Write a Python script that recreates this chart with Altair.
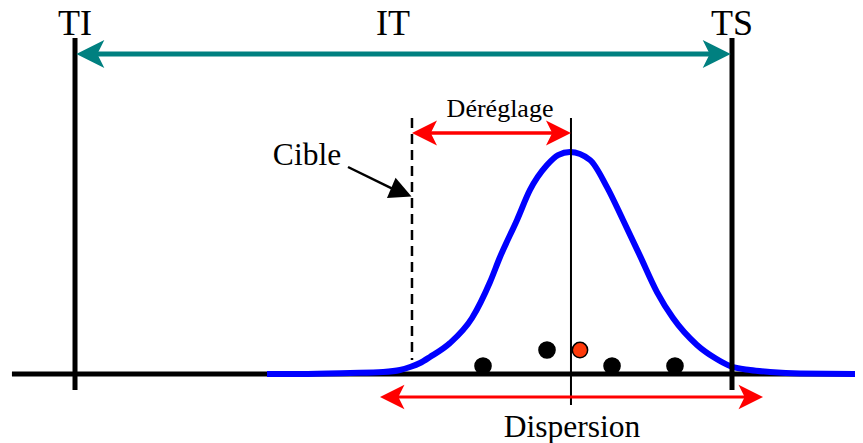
import altair as alt
import pandas as pd

# ---------------- data (abstract units: TI = 0, TS = 100 ; curve peak = 1) ----------------
W, H = 847, 435
X_DOMAIN = [-10.2, 118.72]
Y_DOMAIN = [-0.3108, 1.6486]

# tolerance limits
limit_names = ["TI", "TS"]
limit_x = [0.0, 100.0]
limit_y_top = [1.514, 1.514]
limit_y_bot = [-0.072, -0.072]

# IT arrow (between TI and TS)
it_tips_x = [0.2, 99.8]
it_y = 1.441

# target (cible) and process mean
target_x = 51.29
target_y = [1.153, 0.063]
mean_x = 75.49
mean_y = [1.153, -0.1396]

# Déréglage arrow
dereglage_tips_x = [51.29, 75.49]
dereglage_y = 1.0856

# Dispersion arrow
dispersion_tips_x = [46.42, 104.72]
dispersion_y = -0.1036

# baseline
base_x = [-9.6, 118.72]
base_y = [0.0, 0.0]

# distribution curve
curve_x = [29.22, 34.25, 41.86, 46.88, 49.47, 50.99, 52.51, 54.03, 57.08, 60.43,
           63.17, 64.69, 67.28, 69.25, 71.84, 73.52, 75.34, 78.39, 80.97, 83.41,
           86.0, 88.58, 91.02, 94.67, 97.41, 99.7, 102.74, 105.78, 110.35, 118.72]
curve_y = [0.0, 0.0, 0.0045, 0.009, 0.018, 0.0315, 0.0495, 0.0766, 0.1396, 0.2523,
           0.4144, 0.527, 0.694, 0.829, 0.941, 0.986, 1.0, 0.964, 0.842, 0.694,
           0.532, 0.369, 0.252, 0.131, 0.072, 0.036, 0.018, 0.009, 0.002, 0.0]

# measured parts (points)
pts_x = [62.1, 71.84, 76.86, 81.74, 91.32]
pts_y = [0.036, 0.108, 0.108, 0.036, 0.036]
pts_fill = ["black", "black", "#ff3a0a", "black", "black"]
pts_size = [260, 260, 235, 260, 260]

# "Cible" pointer
cible_line_x = [41.55, 48.2]
cible_line_y = [0.9324, 0.8365]
cible_tip = (51.22, 0.7995)
cible_angle = 23

# labels
labels = ["TI", "IT", "TS", "Déréglage", "Cible", "Dispersion"]
labels_x = [0.0, 48.4, 100.0, 64.69, 35.31, 75.65]
labels_y = [1.527, 1.527, 1.527, 1.1577, 0.9414, -0.2838]
labels_size = [36, 36, 36, 26, 31.5, 31.5]

# ---------------- chart ----------------
xscale = alt.Scale(domain=X_DOMAIN, nice=False, zero=False)
yscale = alt.Scale(domain=Y_DOMAIN, nice=False, zero=False)


def X(f):
    return alt.X(f"{f}:Q", scale=xscale, axis=None)


def Y(f):
    return alt.Y(f"{f}:Q", scale=yscale, axis=None)


NOTCHED_LEFT = "M 0 0 L 2 -1 L 1.5 0 L 2 1 Z"
TRIANGLE_RIGHT = "M 0 0 L -2 -1 L -2 1 Z"

baseline = alt.Chart(pd.DataFrame({"x": [base_x[0]], "x2": [base_x[1]], "y": [base_y[0]]})).mark_rule(
    color="black", strokeWidth=5
).encode(x=X("x"), x2="x2:Q", y=Y("y"))

curve = alt.Chart(pd.DataFrame({"x": curve_x, "y": curve_y})).mark_line(
    color="#0000ff", strokeWidth=6, interpolate="monotone", clip=True
).encode(x=X("x"), y=Y("y"), order="x:Q")

limits = alt.Chart(pd.DataFrame({"name": limit_names, "x": limit_x, "y": limit_y_top, "y2": limit_y_bot})).mark_rule(
    color="black", strokeWidth=5
).encode(x=X("x"), y=Y("y"), y2="y2:Q")

target = alt.Chart(pd.DataFrame({"x": [target_x], "y": [target_y[0]], "y2": [target_y[1]]})).mark_rule(
    color="black", strokeWidth=2.5, strokeDash=[10, 6]
).encode(x=X("x"), y=Y("y"), y2="y2:Q")

mean = alt.Chart(pd.DataFrame({"x": [mean_x], "y": [mean_y[0]], "y2": [mean_y[1]]})).mark_rule(
    color="black", strokeWidth=2
).encode(x=X("x"), y=Y("y"), y2="y2:Q")


def shaft(tips, y, color, width, off):
    return alt.Chart(pd.DataFrame({"x": [tips[0]], "x2": [tips[1]], "y": [y]})).mark_rule(
        color=color, strokeWidth=width, xOffset=off, x2Offset=-off
    ).encode(x=X("x"), x2="x2:Q", y=Y("y"))


def heads(tips, y, color, size):
    df = pd.DataFrame({"x": tips, "y": [y, y], "angle": [0, 180]})
    return alt.Chart(df).mark_point(
        shape=NOTCHED_LEFT, filled=True, opacity=1, color=color, size=size, strokeWidth=0
    ).encode(x=X("x"), y=Y("y"), angle=alt.Angle("angle:Q", scale=None))


it_shaft = shaft(it_tips_x, it_y, "#008080", 5, 18)
it_heads = heads(it_tips_x, it_y, "#008080", 784)
der_shaft = shaft(dereglage_tips_x, dereglage_y, "#ff0000", 3.5, 15)
der_heads = heads(dereglage_tips_x, dereglage_y, "#ff0000", 625)
dis_shaft = shaft(dispersion_tips_x, dispersion_y, "#ff0000", 3, 15)
dis_heads = heads(dispersion_tips_x, dispersion_y, "#ff0000", 600)

points = alt.Chart(pd.DataFrame({"x": pts_x, "y": pts_y, "fill": pts_fill, "size": pts_size})).mark_point(
    filled=True, opacity=1, stroke="black", strokeWidth=1.5, shape="circle"
).encode(x=X("x"), y=Y("y"), fill=alt.Fill("fill:N", scale=None), size=alt.Size("size:Q", scale=None))

cible_line = alt.Chart(pd.DataFrame({"x": [cible_line_x[0]], "x2": [cible_line_x[1]],
                                     "y": [cible_line_y[0]], "y2": [cible_line_y[1]]})).mark_rule(
    color="black", strokeWidth=2.5
).encode(x=X("x"), x2="x2:Q", y=Y("y"), y2="y2:Q")

cible_head = alt.Chart(pd.DataFrame({"x": [cible_tip[0]], "y": [cible_tip[1]], "angle": [cible_angle]})).mark_point(
    shape=TRIANGLE_RIGHT, filled=True, opacity=1, color="black", size=484, strokeWidth=0
).encode(x=X("x"), y=Y("y"), angle=alt.Angle("angle:Q", scale=None))

texts = alt.Chart(pd.DataFrame({"t": labels, "x": labels_x, "y": labels_y, "s": labels_size})).mark_text(
    font="Liberation Serif", color="black", align="center", baseline="alphabetic"
).encode(x=X("x"), y=Y("y"), text="t:N", size=alt.Size("s:Q", scale=None))

chart = alt.layer(
    baseline, curve, limits, target, mean,
    it_shaft, it_heads, der_shaft, der_heads, dis_shaft, dis_heads,
    points, cible_line, cible_head, texts
).properties(
    width=W, height=H, padding=0, autosize=alt.AutoSizeParams(type="none")
).configure(background="white").configure_view(stroke=None)

chart.save("out.html", embed_options={"renderer": "svg", "actions": False})
